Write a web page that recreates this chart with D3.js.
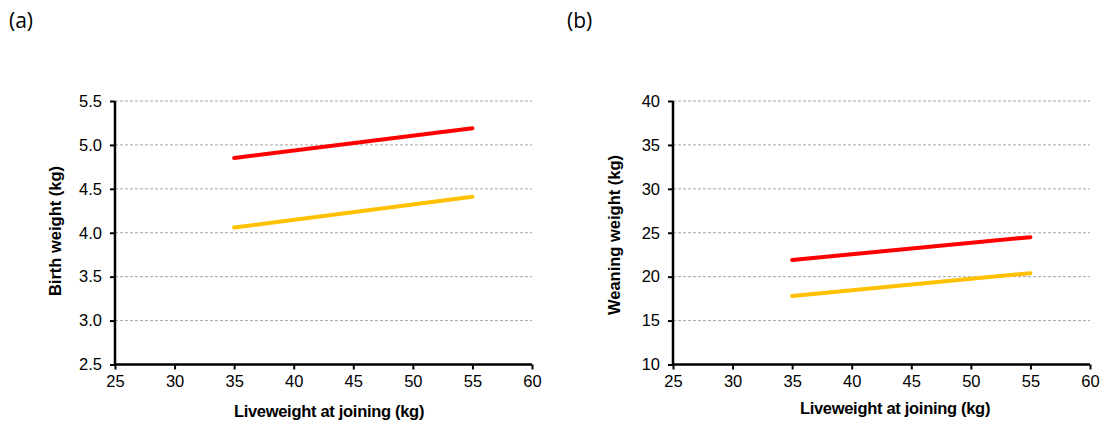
<!DOCTYPE html>
<html><head><meta charset="utf-8">
<script src="https://cdn.jsdelivr.net/npm/d3@7"></script>
<style>body{margin:0;background:#fff}svg{display:block}</style>
</head><body>
<svg id="c" width="1101" height="421"></svg>
<script>
const xValues = [35, 55];
const xTicks = [25, 30, 35, 40, 45, 50, 55, 60];
const birthRed = [4.85, 5.19];
const birthYellow = [4.06, 4.41];
const weanRed = [21.9, 24.5];
const weanYellow = [17.8, 20.4];
const birthTicks = [2.5, 3.0, 3.5, 4.0, 4.5, 5.0, 5.5];
const weanTicks = [10, 15, 20, 25, 30, 35, 40];
const colors = ["#FF0000", "#FFC000"];

const FONT = "'Liberation Sans', Arial, sans-serif";
const svg = d3.select("#c");

function panel(o) {
  const g = svg.append("g");
  const x = d3.scaleLinear().domain([25, 60]).range([o.x0, o.x1]);
  const y = d3.scaleLinear().domain(o.yDomain).range([364.5, 101]);
  g.selectAll(".grid").data(o.yTicks.slice(1)).enter().append("line")
    .attr("x1", o.x0).attr("x2", o.x1)
    .attr("y1", d => y(d)).attr("y2", d => y(d))
    .attr("stroke", "#a6a6a6").attr("stroke-width", 1).attr("stroke-dasharray", "3,2");
  const xa = g.append("g").attr("transform", `translate(0,${y(o.yDomain[0])})`)
    .call(d3.axisBottom(x).tickValues(xTicks).tickSize(5).tickPadding(6).tickFormat(d3.format("d")));
  xa.attr("font-size", null).attr("font-family", null);
  xa.select(".domain").attr("stroke", "#000").attr("stroke-width", 2.5).attr("d", `M${o.x0},0H${o.x1}`);
  xa.selectAll(".tick line").attr("stroke", "#000").attr("stroke-width", 2);
  xa.selectAll("text").attr("font-family", FONT).attr("font-size", 16.5).attr("fill", "#000");
  const ya = g.append("g").attr("transform", `translate(${o.x0},0)`)
    .call(d3.axisLeft(y).tickValues(o.yTicks).tickSize(5).tickPadding(8).tickFormat(o.fmt));
  ya.attr("font-size", null).attr("font-family", null);
  ya.select(".domain").attr("stroke", "#000").attr("stroke-width", 2.5).attr("d", `M0,${y(o.yDomain[1])}V${y(o.yDomain[0])}`);
  ya.selectAll(".tick line").attr("stroke", "#000").attr("stroke-width", 2);
  ya.selectAll("text").attr("font-family", FONT).attr("font-size", 16.5).attr("fill", "#000");
  const line = d3.line().x((d, i) => x(xValues[i])).y(d => y(d));
  [o.red, o.yellow].forEach((s, i) => {
    g.append("path").datum(s).attr("d", line).attr("fill", "none")
      .attr("stroke", colors[i]).attr("stroke-width", 4).attr("stroke-linecap", "round");
  });
  g.append("text").attr("x", o.xtX).attr("y", o.xtY).attr("text-anchor", "middle")
    .attr("dominant-baseline", "central")
    .attr("font-family", FONT).attr("font-weight", "bold").attr("font-size", 16.5)
    .attr("letter-spacing", "-0.3")
    .text("Liveweight at joining (kg)");
  g.append("text").attr("transform", `translate(${o.ytX},${o.ytY}) rotate(-90)`).attr("text-anchor", "middle")
    .attr("dominant-baseline", "central")
    .attr("font-family", FONT).attr("font-weight", "bold").attr("font-size", 16.5)
    .text(o.ytitle);
  g.append("text").attr("x", o.lx).attr("y", 20).attr("dominant-baseline", "central")
    .attr("font-family", "'Open Sans', sans-serif").attr("font-size", 21).text(o.label);
}

panel({x0: 115, x1: 532, yDomain: [2.5, 5.5], yTicks: birthTicks, fmt: d3.format(".1f"),
  red: birthRed, yellow: birthYellow, xtX: 329, xtY: 411, ytX: 55, ytY: 231,
  ytitle: "Birth weight (kg)", label: "(a)", lx: 9});
panel({x0: 673, x1: 1090, yDomain: [10, 40], yTicks: weanTicks, fmt: d3.format("d"),
  red: weanRed, yellow: weanYellow, xtX: 895, xtY: 408, ytX: 614, ytY: 235,
  ytitle: "Weaning weight (kg)", label: "(b)", lx: 567});
</script>
</body></html>
